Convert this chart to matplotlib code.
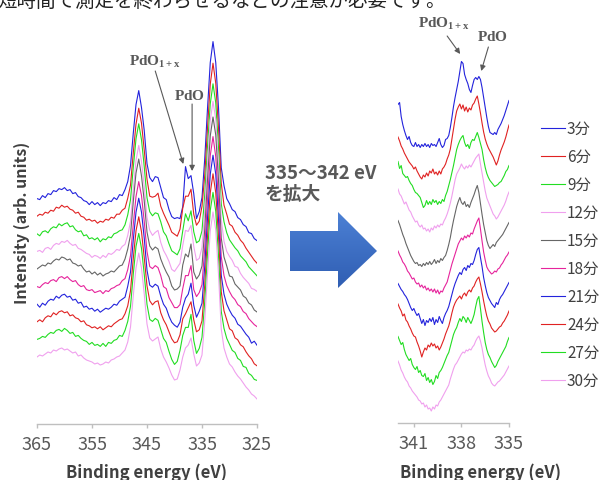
import numpy as np
import matplotlib.pyplot as plt
from matplotlib.colors import LinearSegmentedColormap
from matplotlib.patches import Polygon

plt.rcParams['font.family'] = ['Noto Sans CJK JP', 'DejaVu Sans']
plt.rcParams['mathtext.fontset'] = 'custom'
plt.rcParams['mathtext.rm'] = 'Liberation Serif:bold'
plt.rcParams['mathtext.bf'] = 'Liberation Serif:bold'
plt.rcParams['mathtext.it'] = 'Liberation Serif:bold'

# measurement times (legend labels)
times = ['3分', '6分', '9分', '12分', '15分', '18分', '21分', '24分', '27分', '30分']

# wide scan, 365 -> 325 eV, 0.5 eV step
wide_energy = np.linspace(365, 325, 81)
wide_3 = [100, 99, 103, 101, 105, 104, 108, 107, 110, 109,
          111, 108, 109, 105, 106, 102, 101, 98, 97, 94,
          97, 94, 96, 93, 96, 95, 98, 97, 101, 99,
          104, 103, 109, 117, 133, 165, 194, 208, 191, 168,
          135, 121, 117, 122, 121, 111, 101, 99, 89, 82,
          80, 81, 80, 92, 132, 120, 123, 105, 80, 87,
          101, 140, 190, 236, 257, 236, 191, 131, 113, 100,
          95, 89, 87, 81, 79, 74, 72, 66, 65, 60, 58]
wide_6 = [100, 102, 101, 104, 103, 106, 105, 109, 108, 111,
          109, 110, 107, 106, 103, 104, 100, 99, 96, 97,
          95, 96, 93, 95, 94, 97, 96, 99, 98, 102,
          102, 106, 108, 118, 131, 163, 192, 208, 193, 166,
          137, 120, 119, 120, 123, 110, 103, 97, 91, 84,
          82, 80, 87, 108, 120, 120, 127, 102, 91, 95,
          110, 141, 188, 232, 253, 233, 188, 133, 111, 102,
          92, 90, 84, 81, 76, 73, 68, 64, 60, 56, 53]
wide_9 = [100, 98, 102, 103, 101, 105, 107, 106, 110, 108,
          110, 111, 107, 108, 104, 102, 103, 98, 99, 95,
          96, 94, 96, 92, 95, 94, 97, 96, 100, 101,
          103, 104, 109, 119, 134, 166, 195, 210, 194, 167,
          136, 122, 118, 121, 120, 112, 102, 98, 90, 83,
          81, 79, 85, 103, 120, 113, 123, 102, 91, 93,
          103, 139, 187, 230, 250, 231, 186, 130, 112, 101,
          94, 90, 86, 83, 78, 75, 72, 67, 64, 61, 58]
wide_12 = [100, 101, 99, 103, 104, 102, 106, 108, 107, 110,
           109, 111, 108, 106, 107, 103, 102, 100, 98, 97,
           94, 96, 95, 93, 96, 94, 98, 97, 99, 102,
           101, 105, 107, 116, 130, 162, 191, 206, 190, 165,
           134, 121, 116, 119, 121, 109, 101, 96, 90, 82,
           80, 84, 88, 106, 121, 120, 126, 105, 91, 93,
           104, 141, 189, 231, 250, 232, 187, 132, 110, 100,
           95, 91, 85, 84, 78, 74, 71, 68, 63, 62, 60]
wide_15 = [100, 102, 104, 103, 106, 105, 108, 110, 109, 112,
           111, 109, 110, 106, 105, 103, 104, 100, 97, 98,
           95, 97, 94, 96, 93, 95, 96, 98, 97, 100,
           103, 104, 110, 120, 134, 167, 196, 210, 193, 168,
           137, 123, 119, 122, 120, 110, 103, 97, 92, 83,
           79, 80, 83, 104, 115, 112, 125, 97, 90, 94,
           103, 140, 189, 233, 252, 234, 189, 131, 112, 103,
           93, 92, 85, 82, 79, 73, 71, 66, 64, 59, 57]
wide_18 = [100, 99, 102, 104, 103, 106, 107, 105, 109, 110,
           108, 110, 107, 105, 106, 102, 100, 101, 97, 96,
           97, 94, 95, 96, 93, 96, 95, 98, 99, 101,
           102, 106, 108, 117, 131, 162, 190, 205, 191, 165,
           135, 120, 118, 121, 119, 111, 100, 98, 89, 84,
           79, 79, 82, 98, 111, 111, 121, 97, 90, 94,
           102, 139, 187, 231, 250, 230, 186, 130, 111, 101,
           95, 90, 87, 82, 80, 75, 73, 68, 65, 62, 60]
wide_21 = [100, 97, 101, 99, 103, 105, 104, 108, 106, 109,
           110, 107, 108, 104, 105, 101, 102, 97, 98, 95,
           96, 93, 95, 92, 94, 96, 95, 97, 100, 99,
           103, 105, 107, 118, 132, 164, 192, 206, 192, 166,
           134, 119, 117, 120, 118, 108, 100, 96, 88, 82,
           79, 77, 82, 97, 106, 110, 121, 99, 87, 93,
           101, 138, 186, 230, 249, 230, 185, 129, 110, 100,
           94, 89, 86, 80, 78, 74, 70, 67, 61, 63, 59]
wide_24 = [100, 102, 100, 104, 106, 105, 109, 107, 110, 111,
           109, 110, 106, 107, 104, 103, 100, 101, 97, 96,
           94, 95, 93, 95, 92, 94, 96, 95, 98, 100,
           102, 103, 108, 116, 131, 163, 191, 205, 190, 164,
           136, 121, 117, 120, 121, 109, 102, 97, 90, 83,
           79, 80, 87, 103, 108, 114, 120, 102, 90, 92,
           101, 137, 185, 229, 248, 229, 185, 130, 111, 102,
           93, 91, 84, 82, 77, 75, 70, 66, 63, 58, 56]
wide_27 = [100, 101, 103, 102, 105, 107, 106, 109, 110, 108,
           111, 109, 106, 107, 103, 104, 101, 99, 98, 95,
           97, 94, 95, 93, 96, 93, 97, 96, 99, 100,
           104, 103, 109, 118, 133, 165, 193, 206, 191, 165,
           135, 120, 118, 121, 119, 110, 101, 97, 88, 80,
           75, 78, 89, 104, 112, 112, 125, 99, 86, 91,
           102, 138, 186, 229, 247, 228, 184, 128, 111, 101,
           95, 89, 87, 81, 79, 73, 72, 66, 64, 60, 59]
wide_30 = [100, 102, 101, 103, 105, 104, 107, 106, 108, 109,
           107, 108, 106, 104, 105, 101, 102, 99, 97, 96,
           95, 93, 94, 92, 93, 95, 94, 97, 98, 100,
           101, 104, 107, 115, 130, 161, 189, 204, 189, 163,
           133, 119, 116, 118, 120, 108, 100, 95, 89, 82,
           77, 78, 87, 100, 109, 112, 119, 103, 91, 94,
           102, 136, 183, 226, 245, 227, 183, 128, 109, 100,
           93, 90, 85, 81, 78, 74, 70, 67, 63, 61, 58]

# narrow scan, 342 -> 335 eV, 0.1 eV step
zoom_energy = np.linspace(342, 335, 71)
zoom_3 = [62, 64, 50, 42, 36, 31, 27, 30, 24, 21,
          20, 24, 20, 22, 19, 22, 20, 23, 20, 22,
          19, 23, 21, 22, 20, 24, 28, 22, 19, 21,
          27, 28, 31, 39, 49, 60, 69, 77, 85, 95,
          105, 103, 92, 87, 83, 77, 74, 81, 87, 89,
          87, 90, 87, 79, 69, 59, 49, 40, 34, 33,
          32, 34, 32, 37, 40, 43, 47, 51, 56, 61,
          66]
zoom_6 = [58, 54, 49, 46, 42, 39, 36, 33, 31, 29,
          26, 28, 24, 21, 18, 16, 20, 18, 22, 19,
          24, 22, 26, 21, 23, 20, 24, 21, 26, 28,
          31, 36, 40, 46, 56, 66, 76, 84, 88, 91,
          86, 90, 84, 88, 83, 87, 85, 90, 92, 96,
          99, 91, 82, 72, 63, 56, 51, 47, 44, 41,
          38, 34, 30, 34, 40, 45, 49, 53, 58, 64,
          70]
zoom_9 = [62, 55, 58, 50, 48, 46, 47, 43, 40, 38,
          34, 31, 30, 28, 26, 21, 16, 18, 23, 19,
          22, 19, 24, 21, 23, 19, 22, 20, 24, 22,
          28, 32, 38, 44, 51, 58, 66, 74, 79, 83,
          86, 88, 81, 77, 79, 75, 81, 84, 83, 87,
          91, 86, 80, 74, 64, 56, 50, 46, 43, 41,
          39, 37, 38, 39, 41, 42, 45, 48, 52, 54,
          58]
zoom_12 = [63, 58, 56, 52, 48, 50, 46, 42, 40, 36,
           33, 30, 31, 27, 25, 27, 23, 24, 21, 23,
           20, 24, 22, 26, 24, 27, 25, 28, 27, 31,
           34, 38, 43, 49, 56, 64, 72, 78, 81, 84,
           88, 85, 83, 86, 84, 87, 85, 88, 91, 94,
           96, 98, 88, 79, 70, 61, 54, 50, 46, 42,
           38, 36, 33, 35, 38, 41, 44, 47, 51, 56,
           60]
zoom_15 = [60, 56, 51, 46, 42, 37, 33, 29, 25, 22,
           19, 17, 18, 15, 16, 14, 17, 15, 18, 16,
           19, 16, 18, 21, 17, 20, 18, 22, 20, 23,
           25, 30, 36, 43, 52, 60, 67, 74, 79, 83,
           78, 76, 79, 74, 76, 73, 78, 82, 86, 91,
           95, 88, 77, 66, 56, 48, 40, 35, 32, 34,
           36, 34, 38, 40, 42, 44, 46, 49, 52, 55,
           58]
zoom_18 = [58, 54, 51, 47, 45, 42, 38, 36, 33, 30,
           31, 27, 25, 26, 22, 24, 21, 23, 19, 21,
           18, 20, 17, 20, 16, 19, 15, 18, 17, 21,
           24, 27, 33, 39, 45, 50, 55, 60, 65, 68,
           71, 69, 73, 71, 74, 72, 76, 75, 80, 84,
           88, 91, 80, 68, 57, 49, 42, 39, 37, 35,
           36, 38, 37, 40, 41, 44, 46, 49, 52, 54,
           57]
zoom_21 = [54, 51, 48, 46, 43, 41, 38, 34, 30, 27,
           29, 25, 22, 24, 19, 14, 18, 12, 17, 15,
           19, 16, 20, 13, 18, 15, 21, 17, 14, 20,
           24, 27, 31, 37, 43, 49, 54, 58, 62, 65,
           63, 68, 70, 67, 72, 70, 74, 73, 77, 83,
           88, 90, 80, 71, 60, 52, 45, 40, 37, 34,
           32, 30, 35, 33, 38, 41, 43, 46, 49, 52,
           55]
zoom_24 = [62, 58, 55, 50, 52, 46, 44, 40, 37, 33,
           30, 29, 24, 20, 15, 9, 14, 18, 16, 21,
           19, 23, 20, 22, 18, 20, 16, 19, 23, 27,
           32, 36, 40, 46, 53, 59, 63, 66, 68, 70,
           67, 71, 73, 70, 74, 76, 74, 78, 80, 84,
           87, 89, 82, 74, 65, 57, 50, 45, 42, 38,
           36, 34, 35, 37, 39, 40, 43, 45, 48, 51,
           55]
zoom_27 = [58, 54, 50, 52, 45, 40, 37, 34, 36, 30,
           27, 25, 28, 22, 24, 19, 18, 21, 14, 17,
           12, 15, 10, 13, 19, 16, 22, 24, 27, 31,
           35, 39, 42, 48, 54, 60, 64, 67, 72, 76,
           73, 78, 76, 72, 77, 74, 71, 75, 80, 88,
           95, 98, 86, 73, 62, 52, 45, 40, 37, 33,
           30, 27, 29, 33, 36, 39, 42, 45, 48, 53,
           57]
zoom_30 = [62, 58, 53, 50, 46, 43, 41, 37, 35, 32,
           30, 28, 26, 23, 22, 19, 20, 16, 18, 14,
           15, 12, 16, 14, 18, 17, 21, 23, 26, 29,
           32, 35, 38, 44, 49, 54, 58, 60, 63, 66,
           69, 71, 70, 73, 72, 74, 73, 76, 78, 82,
           85, 87, 82, 75, 66, 58, 52, 47, 44, 40,
           38, 37, 39, 41, 42, 44, 46, 48, 51, 54,
           57]

wide_scans = [wide_3, wide_6, wide_9, wide_12, wide_15,
              wide_18, wide_21, wide_24, wide_27, wide_30]
zoom_scans = [zoom_3, zoom_6, zoom_9, zoom_12, zoom_15,
              zoom_18, zoom_21, zoom_24, zoom_27, zoom_30]

colors = ['#2323dc', '#e02222', '#22dd22', '#f0a0ee', '#666666',
          '#e6249c', '#2323dc', '#e02222', '#22dd22', '#f0a0ee']

W, H = 601, 481
fig = plt.figure(figsize=(W / 100, H / 100), dpi=100)


def px_axes(x0, y0, x1, y1, **kw):
    # axes box given in image pixels (origin top-left)
    return fig.add_axes([x0 / W, 1 - y1 / H, (x1 - x0) / W, (y1 - y0) / H], **kw)


ax1 = px_axes(37, 40, 257, 425)
ax2 = px_axes(398, 40, 509, 424)

n = len(times)
for i in range(n):
    off1 = (n - 1 - i) * 17.6  # waterfall offsets
    off2 = (n - 1 - i) * 28.5
    ax1.plot(wide_energy, np.array(wide_scans[i]) + off1, color=colors[i], lw=0.8)
    ax2.plot(zoom_energy, np.array(zoom_scans[i]) + off2, color=colors[i], lw=0.8,
             label=times[i])

ax1.set_xlim(365, 325)
ax1.set_ylim(33, 418)
ax1.set_xticks([365, 355, 345, 335, 325])
ax2.set_xlim(342, 335)
ax2.set_ylim(0, 384)
ax2.set_xticks([341, 338, 335])

for ax in (ax1, ax2):
    for s in ('top', 'left', 'right'):
        ax.spines[s].set_visible(False)
    ax.spines['bottom'].set_color('#bfbfbf')
    ax.spines['bottom'].set_linewidth(1.0)
    ax.set_yticks([])
    ax.tick_params(axis='x', direction='out', length=3, width=1, color='#bfbfbf',
                   labelcolor='#595959', labelsize=13, pad=5)
    ax.patch.set_alpha(0)

ax1.set_xlabel('Binding energy (eV)', fontsize=12, fontweight='bold', color='#404040')
ax1.xaxis.set_label_coords(0.5, -0.1)
ax2.set_xlabel('Binding energy (eV)', fontsize=12, fontweight='bold', color='#404040')
ax2.xaxis.set_label_coords(0.739, -0.103)

fig.text(22 / W, 1 - 223 / H, 'Intensity (arb. units)', rotation=90, ha='center',
         va='center', fontsize=11.5, fontweight='bold', color='#404040')

# peak markers
arrow_kw = dict(arrowstyle='-|>', color='#595959', lw=0.8, mutation_scale=8,
                shrinkA=0, shrinkB=0)
lab_kw = dict(fontsize=11, color='#595959', ha='center', va='center',
              annotation_clip=False)
ax1.annotate(r'$\mathrm{PdO_{1+x}}$', xy=(343.5, 396), **lab_kw)
ax1.annotate('', xy=(338.4, 293), xytext=(343.5, 386), arrowprops=arrow_kw,
             annotation_clip=False)
ax1.annotate(r'$\mathrm{PdO}$', xy=(337.2, 362), **lab_kw)
ax1.annotate('', xy=(336.8, 286), xytext=(336.8, 353), arrowprops=arrow_kw,
             annotation_clip=False)
ax2.annotate(r'$\mathrm{PdO_{1+x}}$', xy=(339.1, 400), **lab_kw)
ax2.annotate('', xy=(338.08, 369), xytext=(338.9, 387), arrowprops=arrow_kw,
             annotation_clip=False)
ax2.annotate(r'$\mathrm{PdO}$', xy=(336.05, 387), **lab_kw)
ax2.annotate('', xy=(336.75, 352), xytext=(336.3, 376), arrowprops=arrow_kw,
             annotation_clip=False)

# legend
fig.legend(loc='upper left', bbox_to_anchor=(541 / W, 1 - 121 / H), frameon=False,
           fontsize=11, handlelength=1.6, handletextpad=0.1, labelspacing=0.72,
           borderpad=0, borderaxespad=0, labelcolor='#404040',
           handles=ax2.get_lines(), labels=times)

# middle note and block arrow (vertical gradient fill)
fig.text(265 / W, 1 - 164 / H, '335～342 eV\nを拡大', ha='left', va='top',
         fontsize=13.5, fontweight='bold', color='#595959', linespacing=1.1)
axa = px_axes(285, 205, 385, 295, frameon=False)
axa.set_xlim(285, 385)
axa.set_ylim(295, 205)
axa.set_axis_off()
arrow_shape = Polygon([(290, 232), (338, 232), (338, 213), (377, 252),
                       (338, 289), (338, 272), (290, 272)], closed=True,
                      facecolor='none', edgecolor='none')
axa.add_patch(arrow_shape)
grad = np.linspace(0, 1, 100).reshape(-1, 1)
cmap = LinearSegmentedColormap.from_list('arr', ['#4f84d8', '#2d5bb0'])
img = axa.imshow(grad, cmap=cmap, extent=(285, 385, 295, 205), aspect='auto',
                 origin='upper')
img.set_clip_path(arrow_shape)

# cut-off line of text above the chart
fig.text(-3 / W, 1 - 7 / H, '短時間で測定を終わらせるなどの注意が必要です。',
         ha='left', va='baseline', fontsize=14, color='#222222')

fig.savefig('out.png', dpi=100)
